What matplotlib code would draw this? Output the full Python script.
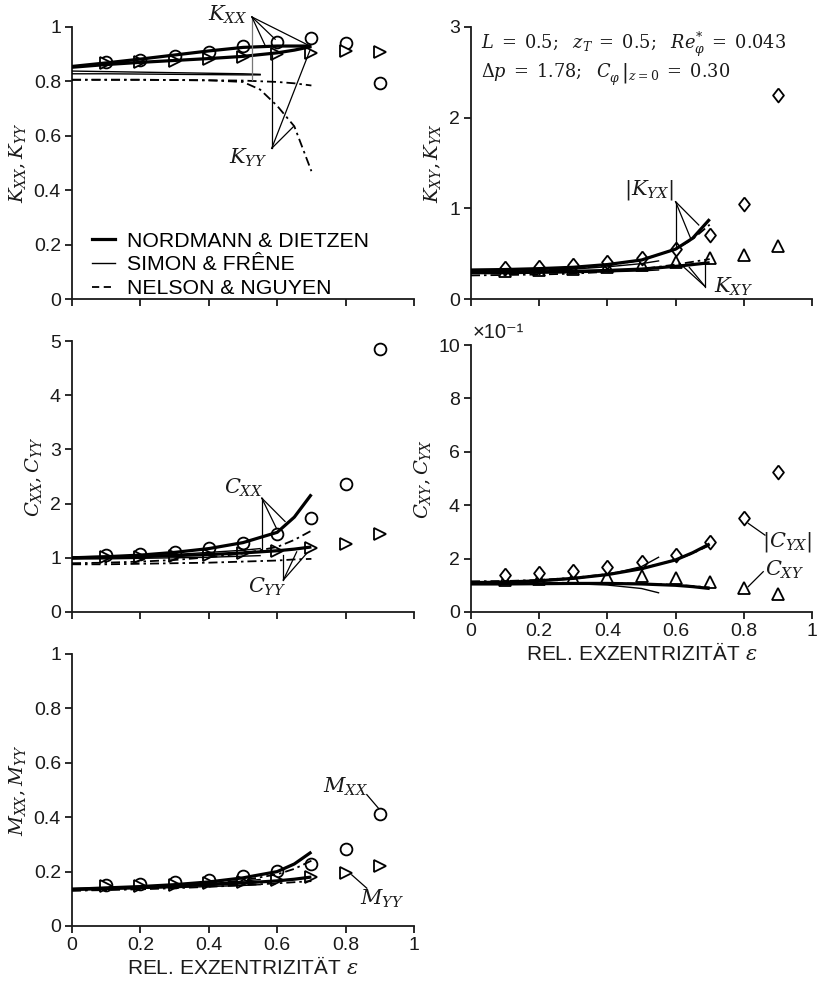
import matplotlib
matplotlib.use('Agg')
import numpy as np
import matplotlib.pyplot as plt
from matplotlib.ticker import FuncFormatter

plt.rcParams['font.family'] = ['Liberation Sans', 'DejaVu Sans']
plt.rcParams['mathtext.fontset'] = 'dejavuserif'

INK = '#1a1a1a'

# ---- data ----
eps_pts = [0.1, 0.2, 0.3, 0.4, 0.5, 0.6, 0.7, 0.8, 0.9]
eps_line = [0, 0.1, 0.2, 0.3, 0.4, 0.5, 0.6, 0.65, 0.7]
eps_simon = [0, 0.1, 0.2, 0.3, 0.4, 0.5, 0.55]
eps_nn_kyy = [0, 0.1, 0.2, 0.3, 0.4, 0.5, 0.55, 0.6, 0.65, 0.7]

# K_XX, K_YY
kxx_meas = [0.872, 0.880, 0.893, 0.907, 0.929, 0.945, 0.958, 0.942, 0.793]
kyy_meas = [0.866, 0.870, 0.876, 0.881, 0.889, 0.901, 0.906, 0.913, 0.909]
nd_kxx = [0.855, 0.868, 0.882, 0.897, 0.912, 0.925, 0.930, 0.930, 0.930]
nd_kyy = [0.852, 0.862, 0.870, 0.877, 0.884, 0.892, 0.905, 0.915, 0.928]
sf_kxx = [0.838, 0.836, 0.834, 0.832, 0.830, 0.828, 0.826]
sf_kyy = [0.828, 0.828, 0.827, 0.826, 0.825, 0.824, 0.824]
nn_kxx = [0.806, 0.806, 0.806, 0.805, 0.804, 0.803, 0.798, 0.793, 0.785]
nn_kyy = [0.806, 0.806, 0.806, 0.805, 0.804, 0.798, 0.770, 0.710, 0.635, 0.470]

# K_XY, |K_YX|
kyx_meas = [0.345, 0.356, 0.375, 0.404, 0.456, 0.548, 0.706, 1.048, 2.25]
kxy_meas = [0.31, 0.32, 0.33, 0.35, 0.375, 0.41, 0.448, 0.485, 0.588]
nd_kyx = [0.32, 0.325, 0.335, 0.35, 0.38, 0.43, 0.55, 0.67, 0.88]
sf_kyx = [0.30, 0.305, 0.315, 0.33, 0.355, 0.39, 0.42]
nn_kyx = [0.30, 0.305, 0.315, 0.335, 0.37, 0.43, 0.55, 0.66, 0.82]
nd_kxy = [0.30, 0.30, 0.30, 0.305, 0.315, 0.33, 0.36, 0.38, 0.40]
sf_kxy = [0.28, 0.28, 0.285, 0.29, 0.30, 0.31, 0.32]
nn_kxy = [0.26, 0.265, 0.27, 0.28, 0.30, 0.33, 0.38, 0.41, 0.44]

# C_XX, C_YY
cxx_meas = [1.05, 1.065, 1.11, 1.175, 1.28, 1.43, 1.73, 2.36, 4.85]
cyy_meas = [1.01, 1.02, 1.04, 1.05, 1.08, 1.125, 1.175, 1.255, 1.43]
nd_cxx = [1.00, 1.02, 1.05, 1.10, 1.17, 1.28, 1.47, 1.75, 2.17]
nd_cyy = [1.00, 1.01, 1.02, 1.04, 1.06, 1.09, 1.13, 1.16, 1.20]
sf_cxx = [1.00, 1.01, 1.03, 1.06, 1.10, 1.14, 1.17]
sf_cyy = [0.98, 0.98, 0.99, 1.00, 1.01, 1.03, 1.04]
nn_cxx = [0.90, 0.91, 0.93, 0.96, 1.01, 1.08, 1.20, 1.33, 1.50]
nn_cyy = [0.88, 0.88, 0.89, 0.90, 0.91, 0.93, 0.95, 0.97, 0.98]

# C_XY, |C_YX|
cyx_meas = [0.139, 0.145, 0.155, 0.170, 0.186, 0.213, 0.261, 0.351, 0.523]
cxy_meas = [0.118, 0.122, 0.128, 0.132, 0.136, 0.126, 0.114, 0.091, 0.066]
nd_cyx = [0.110, 0.112, 0.117, 0.126, 0.140, 0.162, 0.195, 0.222, 0.255]
sf_cyx = [0.108, 0.110, 0.115, 0.124, 0.140, 0.170, 0.205]
nn_cyx = [0.115, 0.116, 0.120, 0.128, 0.142, 0.163, 0.195, 0.220, 0.250]
nd_cxy = [0.105, 0.105, 0.106, 0.107, 0.107, 0.105, 0.100, 0.095, 0.088]
sf_cxy = [0.105, 0.106, 0.107, 0.106, 0.101, 0.088, 0.072]
nn_cxy = [0.112, 0.111, 0.110, 0.109, 0.108, 0.106, 0.102, 0.097, 0.092]

# M_XX, M_YY
mxx_meas = [0.151, 0.154, 0.161, 0.169, 0.184, 0.202, 0.227, 0.282, 0.412]
myy_meas = [0.148, 0.148, 0.151, 0.157, 0.163, 0.169, 0.179, 0.194, 0.221]
nd_mxx = [0.135, 0.140, 0.145, 0.152, 0.162, 0.177, 0.200, 0.228, 0.272]
nd_myy = [0.135, 0.138, 0.142, 0.147, 0.152, 0.158, 0.166, 0.172, 0.180]
sf_mxx = [0.133, 0.137, 0.142, 0.148, 0.156, 0.165, 0.171]
sf_myy = [0.133, 0.135, 0.138, 0.141, 0.145, 0.149, 0.152]
nn_mxx = [0.130, 0.134, 0.139, 0.146, 0.155, 0.168, 0.190, 0.210, 0.240]
nn_myy = [0.130, 0.132, 0.135, 0.139, 0.144, 0.150, 0.157, 0.161, 0.165]

xticks = [0, 0.2, 0.4, 0.6, 0.8, 1]
xlabel = r'REL. EXZENTRIZITÄT $\varepsilon$'

DASHDOT = (0, (5, 2.2, 1.4, 2.2))
DIAMOND = [(0, 1), (0.78, 0), (0, -1), (-0.78, 0), (0, 1)]


def style_axes(ax, ylim, yticks, xlabels=False):
    for s in ['top', 'right']:
        ax.spines[s].set_visible(False)
    for s in ['left', 'bottom']:
        ax.spines[s].set_linewidth(1.3)
        ax.spines[s].set_color(INK)
    ax.set_xlim(0, 1)
    ax.set_ylim(*ylim)
    ax.set_xticks(xticks)
    ax.set_yticks(yticks)
    ax.tick_params(direction='out', length=5, width=1.3, colors=INK,
                   labelsize=14, pad=3)
    ax.xaxis.set_major_formatter(FuncFormatter(lambda v, p: '%g' % v))
    ax.yaxis.set_major_formatter(FuncFormatter(lambda v, p: '%g' % v))
    if xlabels:
        ax.set_xlabel(xlabel, fontsize=15, color=INK, labelpad=1)
    else:
        ax.set_xticklabels([])


def meas(ax, x, y, marker, ms=8.5):
    ax.plot(x, y, linestyle='none', marker=marker, ms=ms, mfc='white',
            mec='black', mew=1.3, zorder=2, clip_on=False)


def curves(ax, x, y, kind):
    if kind == 'nd':
        ax.plot(x, y, color='black', lw=2.3, zorder=3, solid_capstyle='butt')
    elif kind == 'sf':
        ax.plot(x, y, color='black', lw=1.0, zorder=3)
    else:
        ax.plot(x, y, color='black', lw=1.3, linestyle=DASHDOT, zorder=3)


def leader(ax, apex, targets, color='black'):
    for t in targets:
        ax.plot([apex[0], t[0]], [apex[1], t[1]], color=color, lw=0.9,
                zorder=4, clip_on=False)


def label(ax, x, y, s, ha='center'):
    ax.text(x, y, s, fontsize=15, ha=ha, va='center', color=INK)


fig = plt.figure(figsize=(8.18, 9.85), dpi=100)
W = 818.0
H = 985.0


def add_ax(x0, y0, x1, y1):
    return fig.add_axes([x0 / W, 1 - y1 / H, (x1 - x0) / W, (y1 - y0) / H])


ax1 = add_ax(72, 27, 414, 299)
ax2 = add_ax(471, 27, 812, 299)
ax3 = add_ax(72, 341, 414, 612)
ax4 = add_ax(471, 345, 812, 612)
ax5 = add_ax(72, 654, 414, 926)

# ---- K_XX, K_YY ----
meas(ax1, eps_pts, kxx_meas, 'o')
meas(ax1, eps_pts, kyy_meas, '>')
curves(ax1, eps_line, nd_kxx, 'nd')
curves(ax1, eps_line, nd_kyy, 'nd')
curves(ax1, eps_simon, sf_kxx, 'sf')
curves(ax1, eps_simon, sf_kyy, 'sf')
curves(ax1, eps_line, nn_kxx, 'nn')
curves(ax1, eps_nn_kyy, nn_kyy, 'nn')
style_axes(ax1, (0, 1), [0, 0.2, 0.4, 0.6, 0.8, 1])
ax1.set_ylabel(r'$K_{XX}, K_{YY}$', fontsize=14, color=INK)
leader(ax1, (0.526, 1.037), [(0.526, 0.805)], color='#777777')
leader(ax1, (0.526, 1.037), [(0.564, 0.934), (0.594, 0.955), (0.696, 0.930)])
label(ax1, 0.512, 1.044, r'$K_{XX}$', ha='right')
leader(ax1, (0.584, 0.554), [(0.584, 0.897), (0.696, 0.915), (0.647, 0.633)])
label(ax1, 0.515, 0.52, r'$K_{YY}$')

hnd, = ax1.plot([], [], color='black', lw=2.3)
hsf, = ax1.plot([], [], color='black', lw=1.0)
hnn, = ax1.plot([], [], color='black', lw=1.3, linestyle=(0, (4, 2.5)))
ax1.legend([hnd, hsf, hnn],
           ['NORDMANN & DIETZEN', 'SIMON & FRÊNE', 'NELSON & NGUYEN'],
           loc='lower left', bbox_to_anchor=(0.045, -0.012), frameon=False,
           fontsize=15.3, handlelength=1.1, handletextpad=0.55,
           labelspacing=0.22, borderpad=0.2, borderaxespad=0)

# ---- K_XY, |K_YX| ----
meas(ax2, eps_pts, kxy_meas, '^')
meas(ax2, eps_pts, kyx_meas, DIAMOND, ms=10)
curves(ax2, eps_line, nd_kyx, 'nd')
curves(ax2, eps_simon, sf_kyx, 'sf')
curves(ax2, eps_line, nn_kyx, 'nn')
curves(ax2, eps_line, nd_kxy, 'nd')
curves(ax2, eps_simon, sf_kxy, 'sf')
curves(ax2, eps_line, nn_kxy, 'nn')
style_axes(ax2, (0, 3), [0, 1, 2, 3])
ax2.set_ylabel(r'$K_{XY}, K_{YX}$', fontsize=14, color=INK)
leader(ax2, (0.600, 1.073), [(0.600, 0.56), (0.668, 0.816), (0.645, 0.66)])
label(ax2, 0.522, 1.20, r'$|K_{YX}|$')
leader(ax2, (0.687, 0.136), [(0.687, 0.43), (0.614, 0.386), (0.64, 0.35)])
label(ax2, 0.712, 0.13, r'$K_{XY}$', ha='left')
ax2.text(0.03, 0.9375,
         r'$L\;=\;0.5;\ \ z_T\;=\;0.5;\ \ Re_{\varphi}^{*}\;=\;0.043$',
         transform=ax2.transAxes, fontsize=12.8, va='center', color=INK)
ax2.text(0.03, 0.824,
         r'$\Delta p\;=\;1.78;\ \ \left.C_{\varphi}^{\,}\,\right|_{z=0}\;=\;0.30$',
         transform=ax2.transAxes, fontsize=12.8, va='center', color=INK)

# ---- C_XX, C_YY ----
meas(ax3, eps_pts, cxx_meas, 'o')
meas(ax3, eps_pts, cyy_meas, '>')
curves(ax3, eps_line, nd_cxx, 'nd')
curves(ax3, eps_line, nd_cyy, 'nd')
curves(ax3, eps_simon, sf_cxx, 'sf')
curves(ax3, eps_simon, sf_cyy, 'sf')
curves(ax3, eps_line, nn_cxx, 'nn')
curves(ax3, eps_line, nn_cyy, 'nn')
style_axes(ax3, (0, 5), [0, 1, 2, 3, 4, 5])
ax3.set_ylabel(r'$C_{XX}, C_{YY}$', fontsize=14, color=INK)
leader(ax3, (0.555, 2.10), [(0.555, 1.14), (0.623, 1.67), (0.598, 1.54)])
label(ax3, 0.501, 2.29, r'$C_{XX}$')
leader(ax3, (0.618, 0.59), [(0.618, 1.05), (0.657, 1.11), (0.686, 1.08)])
label(ax3, 0.572, 0.46, r'$C_{YY}$')

# ---- C_XY, |C_YX| ----
meas(ax4, eps_pts, cxy_meas, '^')
meas(ax4, eps_pts, cyx_meas, DIAMOND, ms=10)
curves(ax4, eps_line, nd_cyx, 'nd')
curves(ax4, eps_simon, sf_cyx, 'sf')
curves(ax4, eps_line, nn_cyx, 'nn')
curves(ax4, eps_line, nd_cxy, 'nd')
curves(ax4, eps_simon, sf_cxy, 'sf')
curves(ax4, eps_line, nn_cxy, 'nn')
style_axes(ax4, (0, 1), [0, 0.2, 0.4, 0.6, 0.8, 1.0], xlabels=True)
ax4.yaxis.set_major_formatter(FuncFormatter(lambda v, p: '%g' % round(v * 10, 6)))
ax4.text(0.005, 1.045, '×10⁻¹', transform=ax4.transAxes, fontsize=14.5,
         ha='left', va='center', color=INK)
ax4.set_ylabel(r'$C_{XY}, C_{YX}$', fontsize=14, color=INK)
leader(ax4, (0.813, 0.332), [(0.862, 0.288)])
label(ax4, 0.926, 0.262, r'$|C_{YX}|$')
leader(ax4, (0.857, 0.151), [(0.813, 0.095)])
label(ax4, 0.921, 0.157, r'$C_{XY}$')

# ---- M_XX, M_YY ----
meas(ax5, eps_pts, mxx_meas, 'o')
meas(ax5, eps_pts, myy_meas, '>')
curves(ax5, eps_line, nd_mxx, 'nd')
curves(ax5, eps_line, nd_myy, 'nd')
curves(ax5, eps_simon, sf_mxx, 'sf')
curves(ax5, eps_simon, sf_myy, 'sf')
curves(ax5, eps_line, nn_mxx, 'nn')
curves(ax5, eps_line, nn_myy, 'nn')
style_axes(ax5, (0, 1), [0, 0.2, 0.4, 0.6, 0.8, 1], xlabels=True)
ax5.set_ylabel(r'$M_{XX}, M_{YY}$', fontsize=14, color=INK)
leader(ax5, (0.862, 0.483), [(0.896, 0.433)])
label(ax5, 0.80, 0.511, r'$M_{XX}$')
leader(ax5, (0.862, 0.139), [(0.818, 0.188)])
label(ax5, 0.908, 0.099, r'$M_{YY}$')

fig.savefig('out.png', dpi=100)
